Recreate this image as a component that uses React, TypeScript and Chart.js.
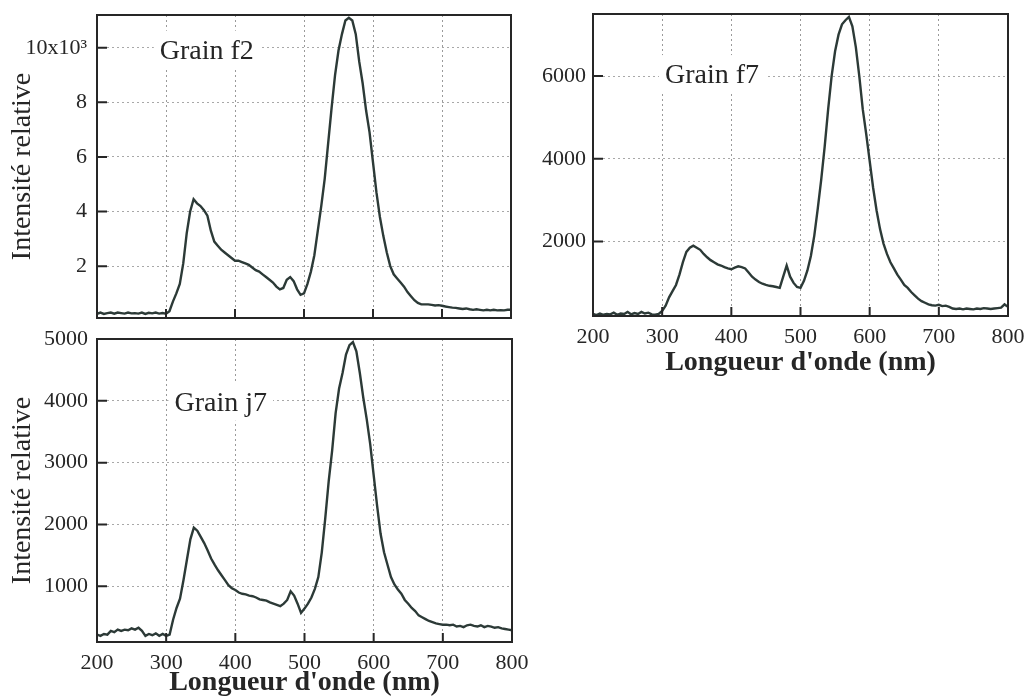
import React, { useEffect, useRef } from 'react';
import { Chart, registerables } from 'chart.js';
Chart.register(...registerables);

// Wavelengths (nm)
const WAVELENGTHS = [
  200, 205, 210, 215, 220, 225, 230, 235, 240, 245, 250, 255, 260, 265, 270, 275, 280, 285, 290, 295, 300,
  305, 310, 315, 320, 325, 330, 335, 340, 345, 350, 355, 360, 365, 370, 375, 380, 385, 390, 395, 400,
  405, 410, 415, 420, 425, 430, 435, 440, 445, 450, 455, 460, 465, 470, 475, 480, 485, 490, 495, 500,
  505, 510, 515, 520, 525, 530, 535, 540, 545, 550, 555, 560, 565, 570, 575, 580, 585, 590, 595, 600,
  605, 610, 615, 620, 625, 630, 635, 640, 645, 650, 655, 660, 665, 670, 675, 680, 685, 690, 695, 700,
  705, 710, 715, 720, 725, 730, 735, 740, 745, 750, 755, 760, 765, 770, 775, 780, 785, 790, 795, 800,
];

const GRAIN_F2 = [
  250, 300, 250, 280, 300, 260, 300, 280, 260, 300, 270, 280, 260, 300, 250, 290, 270, 300, 260, 280, 260,
  350, 700, 1000, 1350, 2100, 3200, 4000, 4450, 4300, 4200, 4050, 3850, 3300, 2900, 2750, 2600, 2500, 2400, 2300, 2200,
  2200, 2150, 2100, 2050, 1950, 1850, 1800, 1700, 1600, 1500, 1400, 1250, 1150, 1200, 1500, 1600, 1450, 1150, 950, 1000,
  1350, 1800, 2400, 3300, 4200, 5200, 6500, 7800, 9000, 9900, 10500, 11000, 11100, 11000, 10500, 9500, 8700, 7700, 6900, 5800,
  4700, 3800, 3100, 2500, 2000, 1700, 1550, 1400, 1250, 1050, 900, 750, 650, 600, 600, 600, 580, 560, 570, 550,
  520, 500, 480, 470, 450, 430, 450, 420, 400, 420, 400, 380, 400, 380, 400, 380, 390, 380, 400, 400,
];

const GRAIN_F7 = [
  250, 220, 260, 230, 250, 240, 280, 230, 260, 250, 300, 240, 270, 250, 300, 260, 280, 240, 230, 250, 320,
  450, 650, 800, 950, 1200, 1500, 1750, 1850, 1900, 1850, 1800, 1700, 1620, 1550, 1500, 1450, 1420, 1380, 1350, 1330,
  1370, 1400, 1380, 1350, 1250, 1150, 1080, 1020, 980, 950, 930, 920, 900, 880, 1150, 1420, 1150, 1000, 900, 880,
  1050, 1300, 1650, 2150, 2800, 3500, 4300, 5200, 6000, 6600, 7000, 7250, 7350, 7430, 7200, 6700, 6000, 5200, 4600, 3950,
  3300, 2750, 2300, 1950, 1700, 1500, 1350, 1200, 1080, 950, 880, 780, 700, 620, 560, 520, 480, 460, 450, 470,
  440, 450, 420, 380, 370, 380, 360, 380, 370, 360, 380, 370, 390, 380, 370, 380, 390, 400, 480, 420,
];

const GRAIN_J7 = [
  220, 200, 230, 220, 280, 260, 300, 280, 300, 290, 320, 300, 330, 280, 200, 230, 210, 240, 200, 230, 200,
  220, 460, 650, 800, 1100, 1430, 1760, 1950, 1900, 1800, 1700, 1580, 1450, 1350, 1260, 1180, 1100, 1020, 970, 940,
  900, 880, 870, 850, 840, 820, 790, 780, 770, 740, 720, 700, 680, 720, 780, 920, 850, 720, 570, 640,
  720, 820, 960, 1150, 1550, 2100, 2700, 3200, 3800, 4200, 4450, 4750, 4900, 4950, 4800, 4450, 4050, 3700, 3300, 2800,
  2300, 1850, 1550, 1350, 1150, 1030, 950, 880, 780, 720, 650, 600, 530, 500, 470, 440, 420, 400, 390, 380,
  380, 370, 380, 350, 360, 340, 370, 380, 360, 350, 370, 340, 360, 350, 330, 340, 320, 310, 300, 290,
];

const X_TICKS = [200, 300, 400, 500, 600, 700, 800];
const F2_Y_TICKS = [2000, 4000, 6000, 8000, 10000];
const F7_Y_TICKS = [2000, 4000, 6000];
const J7_Y_TICKS = [1000, 2000, 3000, 4000, 5000];

const X_TITLE = "Longueur d'onde (nm)";
const Y_TITLE = 'Intensité relative';

const FONT = '"Liberation Serif", "Times New Roman", serif';
const INK = '#262626';
const LINE = '#2c3a37';

const framePlugin = {
  id: 'frame',
  afterDatasetsDraw(chart: any) {
    const { ctx, chartArea, scales } = chart;
    const { left, right, top, bottom } = chartArea;
    ctx.save();
    ctx.strokeStyle = INK;
    ctx.lineWidth = 2;
    ctx.beginPath();
    scales.x.ticks.forEach((t: any) => {
      const px = scales.x.getPixelForValue(t.value);
      if (px > left + 2 && px < right - 2) {
        ctx.moveTo(px, bottom);
        ctx.lineTo(px, bottom - 9);
      }
    });
    scales.y.ticks.forEach((t: any) => {
      const py = scales.y.getPixelForValue(t.value);
      ctx.moveTo(left, py);
      ctx.lineTo(left + 10, py);
    });
    ctx.stroke();
    ctx.strokeRect(left, top, right - left, bottom - top);
    ctx.restore();
  },
};

const labelPlugin = {
  id: 'grainLabel',
  beforeDatasetsDraw(chart: any, _args: any, opts: any) {
    if (!opts || !opts.text) return;
    const { ctx, scales } = chart;
    const x = scales.x.getPixelForValue(opts.x);
    const y = scales.y.getPixelForValue(opts.y);
    ctx.save();
    ctx.font = `28px ${FONT}`;
    const w = ctx.measureText(opts.text).width;
    ctx.fillStyle = '#ffffff';
    ctx.fillRect(x - 6, y - 28, w + 12, 38);
    ctx.fillStyle = INK;
    ctx.textBaseline = 'alphabetic';
    ctx.textAlign = 'left';
    ctx.fillText(opts.text, x, y);
    ctx.restore();
  },
};

type PanelCfg = {
  values: number[];
  yTicks: number[];
  yMin: number;
  yMax: number;
  yFmt: (v: number) => string;
  showXLabels: boolean;
  showYTitle: boolean;
  yAxisWidth: number;
  xAxisHeight: number;
  yTickPad: number;
  padTop: number;
  padRight: number;
  label: { text: string; x: number; y: number };
  left: number;
  top: number;
  width: number;
  height: number;
};

function Panel({ cfg }: { cfg: PanelCfg }) {
  const ref = useRef<HTMLCanvasElement | null>(null);
  useEffect(() => {
    if (!ref.current) return;
    const data = WAVELENGTHS.map((w, i) => ({ x: w, y: cfg.values[i] }));
    const chart = new Chart(ref.current, {
      type: 'line',
      data: {
        datasets: [
          {
            data,
            borderColor: LINE,
            borderWidth: 2.4,
            pointRadius: 0,
            tension: 0,
            fill: false,
          },
        ],
      },
      options: {
        responsive: false,
        animation: false,
        layout: { padding: { top: cfg.padTop, right: cfg.padRight, left: 0, bottom: 0 } },
        plugins: {
          legend: { display: false },
          tooltip: { enabled: false },
          grainLabel: cfg.label,
        } as any,
        scales: {
          x: {
            type: 'linear',
            min: 200,
            max: 800,
            afterBuildTicks: (axis: any) => {
              axis.ticks = X_TICKS.map((v) => ({ value: v }));
            },
            afterFit: (axis: any) => {
              axis.height = cfg.xAxisHeight;
              axis.paddingLeft = 0;
              axis.paddingRight = 0;
            },
            ticks: {
              display: cfg.showXLabels,
              color: INK,
              padding: 8,
              maxRotation: 0,
              font: { family: FONT, size: 22 },
            },
            grid: { color: '#9a9a9a', lineWidth: 1, drawTicks: false },
            border: { display: false, dash: [2, 3] },
            title: {
              display: cfg.showXLabels,
              text: X_TITLE,
              color: INK,
              padding: { top: 0, bottom: 0 },
              font: { family: FONT, size: 28, weight: 'bold' },
            },
          },
          y: {
            type: 'linear',
            min: cfg.yMin,
            max: cfg.yMax,
            afterBuildTicks: (axis: any) => {
              axis.ticks = cfg.yTicks.map((v) => ({ value: v }));
            },
            afterFit: (axis: any) => {
              axis.width = cfg.yAxisWidth;
              axis.paddingTop = 0;
              axis.paddingBottom = 0;
            },
            ticks: {
              color: INK,
              padding: cfg.yTickPad,
              font: { family: FONT, size: 22 },
              callback: (v: any) => cfg.yFmt(Number(v)),
            },
            grid: { color: '#a8a8a8', lineWidth: 1, drawTicks: false },
            border: { display: false, dash: [2, 3] },
            title: {
              display: cfg.showYTitle,
              text: Y_TITLE,
              color: INK,
              padding: { top: 6, bottom: 0 },
              font: { family: FONT, size: 28 },
            },
          },
        },
      },
      plugins: [framePlugin, labelPlugin],
    } as any);
    return () => chart.destroy();
  }, []);
  return (
    <div style={{ position: 'absolute', left: cfg.left, top: cfg.top, width: cfg.width, height: cfg.height }}>
      <canvas ref={ref} width={cfg.width} height={cfg.height} style={{ width: cfg.width, height: cfg.height, display: 'block' }} />
    </div>
  );
}

const PANELS: PanelCfg[] = [
  {
    values: GRAIN_F2,
    yTicks: F2_Y_TICKS,
    yMin: 100,
    yMax: 11200,
    yFmt: (v) => (v === 10000 ? '10x10³' : String(v / 1000)),
    showXLabels: false,
    showYTitle: true,
    yAxisWidth: 97,
    xAxisHeight: 12,
    yTickPad: 10,
    padTop: 15,
    padRight: 14,
    label: { text: 'Grain f2', x: 291, y: 9600 },
    left: 0,
    top: 0,
    width: 525,
    height: 330,
  },
  {
    values: GRAIN_F7,
    yTicks: F7_Y_TICKS,
    yMin: 200,
    yMax: 7500,
    yFmt: (v) => String(v),
    showXLabels: true,
    showYTitle: false,
    yAxisWidth: 78,
    xAxisHeight: 64,
    yTickPad: 7,
    padTop: 14,
    padRight: 17,
    label: { text: 'Grain f7', x: 304, y: 5830 },
    left: 515,
    top: 0,
    width: 510,
    height: 380,
  },
  {
    values: GRAIN_J7,
    yTicks: J7_Y_TICKS,
    yMin: 100,
    yMax: 5000,
    yFmt: (v) => String(v),
    showXLabels: true,
    showYTitle: true,
    yAxisWidth: 97,
    xAxisHeight: 58,
    yTickPad: 9,
    padTop: 14,
    padRight: 48,
    label: { text: 'Grain j7', x: 312, y: 3840 },
    left: 0,
    top: 325,
    width: 560,
    height: 375,
  },
];

export default function App() {
  return (
    <div style={{ position: 'fixed', left: 0, top: 0, width: 1025, height: 700, background: '#ffffff', overflow: 'hidden' }}>
      {PANELS.map((p, i) => (
        <Panel key={i} cfg={p} />
      ))}
    </div>
  );
}
